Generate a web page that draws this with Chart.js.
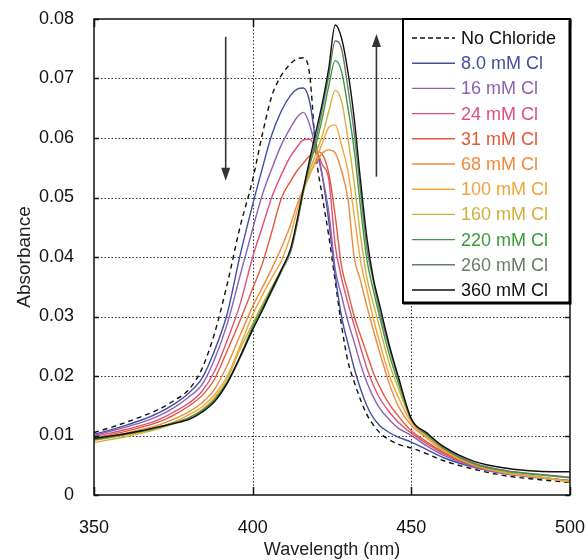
<!DOCTYPE html>
<html>
<head>
<meta charset="utf-8">
<script src="https://cdn.jsdelivr.net/npm/chart.js@4.4.0/dist/chart.umd.min.js"></script>
<style>
  html, body { margin: 0; padding: 0; background: #fff; }
  #wrap { width: 588px; height: 560px; }
</style>
</head>
<body>
<div id="wrap"><canvas id="chart" width="588" height="560"></canvas></div>
<script>
// wavelength grid (nm), shared by every spectrum
const wavelengths = [350, 355, 360, 365, 370, 375, 380, 384, 388, 392, 396, 400, 403, 406, 409, 412, 414, 416, 418, 420,
    422, 424, 426, 428, 430, 432, 434, 436, 438, 440, 443, 446, 450, 455, 460, 470, 480, 490, 500]

const noChloride = [.0105, .0113, .0122, .0132, .0143, .0158, .0178, .0212, .0272, .0355, .0450, .0530, .0605, .0670, .0705, .0725, .0733, .0735, .0705, .0570,
    .0500, .0435, .0360, .0285, .0225, .0190, .0160, .0135, .0118, .0105, .0093, .0085, .0079, .0069, .0058, .0043, .0032, .0026, .0021]
const cl8 = [.0102, .0109, .0117, .0126, .0137, .0152, .0172, .0196, .0243, .0305, .0402, .0488, .0548, .0605, .0645, .0672, .0682, .0684, .0660, .0590,
    .0535, .0460, .0370, .0300, .0255, .0213, .0178, .0150, .0130, .0117, .0105, .0097, .0089, .0076, .0063, .0046, .0035, .0029, .0024]
const cl16 = [.0100, .0107, .0114, .0122, .0132, .0146, .0165, .0185, .0228, .0288, .0368, .0447, .0504, .0548, .0588, .0618, .0635, .0643, .0622, .0580,
    .0535, .0475, .0380, .0335, .0292, .0257, .0220, .0189, .0165, .0146, .0127, .0112, .0100, .0082, .0067, .0047, .0036, .0030, .0024]
const cl24 = [.0098, .0104, .0110, .0117, .0126, .0139, .0155, .0174, .0208, .0260, .0320, .0400, .0450, .0500, .0538, .0570, .0585, .0597, .0598, .0580,
    .0555, .0530, .0420, .0365, .0323, .0285, .0248, .0213, .0185, .0163, .0140, .0122, .0104, .0086, .0070, .0048, .0036, .0030, .0024]
const cl31 = [.0096, .0101, .0107, .0114, .0122, .0134, .0150, .0167, .0195, .0243, .0293, .0347, .0388, .0442, .0498, .0528, .0545, .0558, .0570, .0578,
    .0572, .0540, .0470, .0385, .0342, .0300, .0268, .0237, .0206, .0182, .0153, .0132, .0108, .0089, .0072, .0049, .0037, .0030, .0023]
const cl68 = [.0095, .0099, .0104, .0110, .0117, .0127, .0140, .0155, .0178, .0218, .0268, .0317, .0348, .0380, .0415, .0455, .0488, .0515, .0540, .0560,
    .0575, .0580, .0575, .0545, .0498, .0400, .0360, .0317, .0278, .0240, .0188, .0148, .0117, .0095, .0074, .0050, .0037, .0030, .0022]
const cl100 = [.0092, .0096, .0101, .0106, .0113, .0122, .0135, .0148, .0168, .0200, .0250, .0303, .0335, .0365, .0393, .0437, .0478, .0512, .0538, .0565,
    .0592, .0618, .0622, .0588, .0545, .0470, .0393, .0345, .0297, .0257, .0202, .0163, .0122, .0096, .0076, .0050, .0037, .0030, .0022]
const cl160 = [.0088, .0093, .0098, .0104, .0111, .0119, .0130, .0143, .0163, .0195, .0245, .0288, .0320, .0349, .0378, .0412, .0458, .0510, .0545, .0575,
    .0605, .0645, .0680, .0662, .0600, .0525, .0435, .0365, .0322, .0282, .0222, .0178, .0125, .0099, .0078, .0051, .0038, .0031, .0023]
const cl220 = [.0093, .0097, .0102, .0107, .0113, .0121, .0130, .0142, .0160, .0190, .0232, .0283, .0315, .0347, .0378, .0410, .0458, .0510, .0555, .0590,
    .0635, .0688, .0730, .0712, .0652, .0580, .0483, .0395, .0345, .0300, .0237, .0187, .0127, .0101, .0079, .0052, .0040, .0034, .0029]
const cl260 = [.0095, .0099, .0103, .0108, .0114, .0121, .0128, .0140, .0158, .0188, .0230, .0278, .0310, .0342, .0375, .0410, .0455, .0512, .0558, .0600,
    .0650, .0705, .0763, .0750, .0685, .0608, .0510, .0415, .0360, .0310, .0248, .0193, .0128, .0102, .0080, .0053, .0041, .0035, .0030]
const cl360 = [.0095, .0099, .0103, .0108, .0114, .0120, .0127, .0139, .0157, .0188, .0232, .0278, .0310, .0344, .0378, .0415, .0462, .0515, .0565, .0612,
    .0660, .0718, .0790, .0768, .0712, .0633, .0528, .0432, .0365, .0320, .0253, .0197, .0128, .0104, .0082, .0056, .0045, .0040, .0039]

const seriesLabels = ['No Chloride', '8.0 mM Cl', '16 mM Cl', '24 mM Cl', '31 mM Cl', '68 mM Cl', '100 mM Cl', '160 mM Cl', '220 mM Cl', '260 mM Cl', '360 mM Cl']
const seriesValues = [noChloride, cl8, cl16, cl24, cl31, cl68, cl100, cl160, cl220, cl260, cl360]
const seriesColors = ['#111111', '#3f4fa3', '#8a62b0', '#e04f7a', '#e2583a', '#ee8a3c', '#f2a43a', '#d2b03a', '#3c9a3c', '#687e68', '#111111']

const xMin = 350, xMax = 500, xStep = 50
const yMin = 0, yMax = 0.08, yStep = 0.01
// arrows: [wavelength, from, to]
const arrowDown = [391.5, 0.0770, 0.0528]
const arrowUp = [439, 0.0535, 0.0775]

const FONT = "'Liberation Sans', Arial, sans-serif"

const datasets = seriesValues.map((vals, i) => ({
    label: seriesLabels[i],
    data: wavelengths.map((w, k) => ({x: w, y: vals[k]})),
    borderColor: seriesColors[i],
    borderWidth: 1.4,
    borderDash: i === 0 ? [5, 4] : [],
    pointRadius: 0,
    cubicInterpolationMode: 'monotone',
    order: seriesValues.length - i
}))

function drawArrow(ctx, x, y1, y2) {
    const dir = y2 > y1 ? 1 : -1
    ctx.beginPath()
    ctx.moveTo(x, y1)
    ctx.lineTo(x, y2 - dir * 10)
    ctx.stroke()
    ctx.beginPath()
    ctx.moveTo(x, y2)
    ctx.lineTo(x - 4.5, y2 - dir * 13)
    ctx.lineTo(x + 4.5, y2 - dir * 13)
    ctx.closePath()
    ctx.fill()
}

const framePlugin = {
    id: 'frame',
    beforeDatasetsDraw(chart) {
        const {ctx, chartArea: a, scales: {x, y}} = chart
        ctx.save()
        ctx.strokeStyle = '#333'
        ctx.lineWidth = 1
        ctx.setLineDash([1.5, 2])
        y.ticks.forEach(t => {
            if (t.value <= yMin || t.value >= yMax) return
            const py = Math.round(y.getPixelForValue(t.value)) + 0.5
            ctx.beginPath(); ctx.moveTo(a.left, py); ctx.lineTo(a.right, py); ctx.stroke()
        })
        x.ticks.forEach(t => {
            if (t.value <= xMin || t.value >= xMax) return
            const px = Math.round(x.getPixelForValue(t.value)) + 0.5
            ctx.beginPath(); ctx.moveTo(px, a.top); ctx.lineTo(px, a.bottom); ctx.stroke()
        })
        ctx.restore()
    },
    afterDatasetsDraw(chart) {
        const {ctx, chartArea: a, scales: {x, y}} = chart
        ctx.save()
        // inward tick marks
        ctx.strokeStyle = '#111'
        ctx.lineWidth = 1.5
        y.ticks.forEach(t => {
            const py = Math.round(y.getPixelForValue(t.value)) + 0.5
            ctx.beginPath()
            ctx.moveTo(a.left, py); ctx.lineTo(a.left + 5, py)
            ctx.moveTo(a.right, py); ctx.lineTo(a.right - 5, py)
            ctx.stroke()
        })
        x.ticks.forEach(t => {
            const px = Math.round(x.getPixelForValue(t.value)) + 0.5
            ctx.beginPath()
            ctx.moveTo(px, a.bottom); ctx.lineTo(px, a.bottom - 8)
            ctx.moveTo(px, a.top); ctx.lineTo(px, a.top + 8)
            ctx.stroke()
        })
        // frame
        ctx.lineWidth = 1.5
        ctx.strokeRect(a.left, a.top, a.right - a.left, a.bottom - a.top)

        // arrows
        ctx.strokeStyle = '#333'
        ctx.fillStyle = '#333'
        ctx.lineWidth = 1.6
        drawArrow(ctx, x.getPixelForValue(arrowDown[0]), y.getPixelForValue(arrowDown[1]), y.getPixelForValue(arrowDown[2]))
        drawArrow(ctx, x.getPixelForValue(arrowUp[0]), y.getPixelForValue(arrowUp[1]), y.getPixelForValue(arrowUp[2]))

        // legend box
        const bx = 403, by = a.top, bw = a.right - bx, bh = 284
        ctx.fillStyle = '#fff'
        ctx.fillRect(bx, by, bw, bh)
        ctx.strokeStyle = '#000'
        ctx.lineWidth = 2
        ctx.strokeRect(bx, by, bw, bh)
        ctx.lineWidth = 3
        ctx.beginPath()
        ctx.moveTo(bx + bw, by); ctx.lineTo(bx + bw, by + bh); ctx.lineTo(bx, by + bh)
        ctx.stroke()
        ctx.font = '18px ' + FONT
        ctx.textBaseline = 'middle'
        ctx.textAlign = 'left'
        seriesLabels.forEach((lab, i) => {
            const ry = by + 19 + i * 25.2
            ctx.strokeStyle = seriesColors[i]
            ctx.lineWidth = 1.4
            ctx.setLineDash(i === 0 ? [5, 3] : [])
            ctx.beginPath(); ctx.moveTo(bx + 9, ry); ctx.lineTo(bx + 52, ry); ctx.stroke()
            ctx.setLineDash([])
            ctx.fillStyle = seriesColors[i]
            ctx.fillText(lab, bx + 58, ry + 1)
        })
        ctx.restore()
    }
}

new Chart(document.getElementById('chart'), {
    type: 'line',
    data: {datasets},
    options: {
        responsive: false,
        animation: false,
        devicePixelRatio: 1,
        layout: {padding: {top: 19, right: 18, left: 0, bottom: 0}},
        plugins: {legend: {display: false}, tooltip: {enabled: false}},
        scales: {
            x: {
                type: 'linear',
                min: xMin, max: xMax,
                afterFit: s => { s.height = 65; s.paddingLeft = 0; s.paddingRight = 0 },
                grid: {display: false},
                border: {display: false},
                ticks: {stepSize: xStep, padding: 14, color: '#111', font: {family: FONT, size: 18}},
                title: {display: true, text: 'Wavelength (nm)', color: '#222', font: {family: FONT, size: 18}, padding: {top: 0, bottom: -1}}
            },
            y: {
                min: yMin, max: yMax,
                afterFit: s => { s.width = 94; s.paddingTop = 0; s.paddingBottom = 0 },
                grid: {display: false},
                border: {display: false},
                ticks: {
                    stepSize: yStep, padding: 12, color: '#111', font: {family: FONT, size: 18},
                    callback: v => v === 0 ? '0' : v.toFixed(2)
                },
                title: {display: true, text: 'Absorbance', color: '#222', font: {family: FONT, size: 19}, padding: {top: 13, bottom: 0}}
            }
        }
    },
    plugins: [framePlugin]
})
</script>
</body>
</html>
